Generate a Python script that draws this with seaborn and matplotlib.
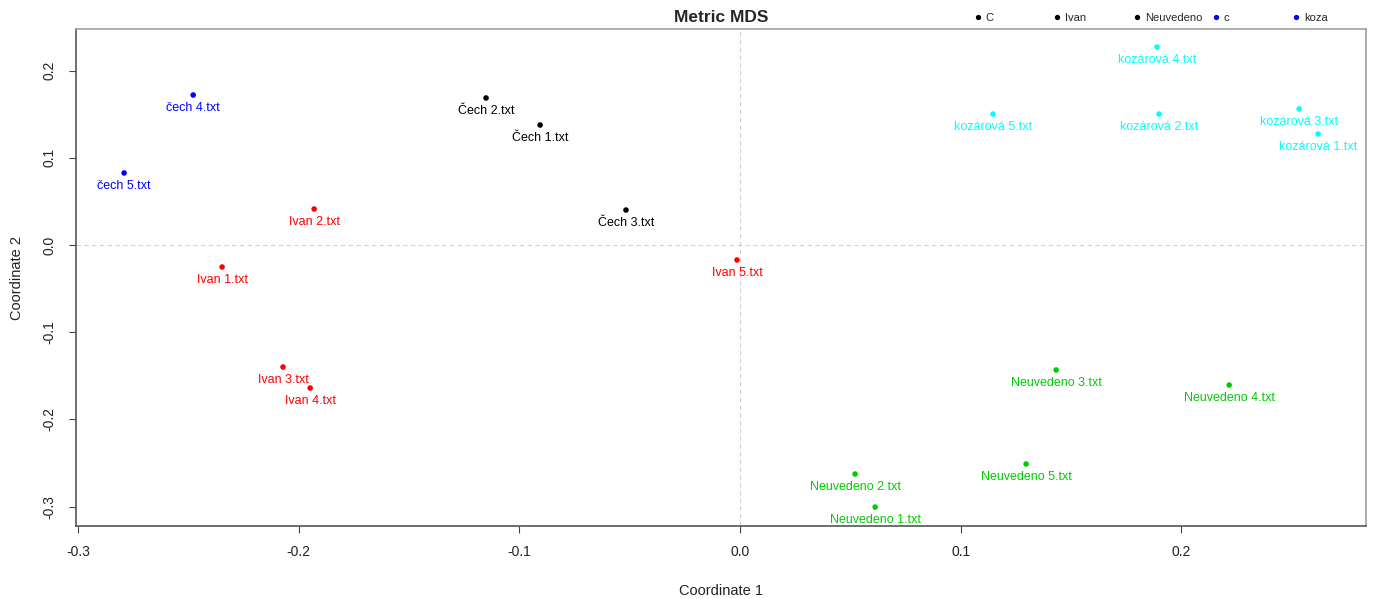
import matplotlib
matplotlib.use("Agg")
import matplotlib.pyplot as plt
from matplotlib.lines import Line2D
import seaborn as sns
import pandas as pd

# ---- data ----
labels = ["čech 4.txt", "čech 5.txt",
          "Čech 2.txt", "Čech 1.txt", "Čech 3.txt",
          "Ivan 2.txt", "Ivan 1.txt", "Ivan 5.txt", "Ivan 3.txt", "Ivan 4.txt",
          "kozárová 4.txt", "kozárová 5.txt", "kozárová 2.txt", "kozárová 3.txt", "kozárová 1.txt",
          "Neuvedeno 3.txt", "Neuvedeno 4.txt", "Neuvedeno 2.txt", "Neuvedeno 5.txt", "Neuvedeno 1.txt"]
groups = ["čech", "čech",
          "Čech", "Čech", "Čech",
          "Ivan", "Ivan", "Ivan", "Ivan", "Ivan",
          "kozárová", "kozárová", "kozárová", "kozárová", "kozárová",
          "Neuvedeno", "Neuvedeno", "Neuvedeno", "Neuvedeno", "Neuvedeno"]
coord1 = [-0.2478, -0.2791,
          -0.1151, -0.0906, -0.0517,
          -0.1930, -0.2347, -0.0014, -0.2071, -0.1948,
          0.1889, 0.1146, 0.1898, 0.2533, 0.2619,
          0.1432, 0.2216, 0.0521, 0.1296, 0.0612]
coord2 = [0.1720, 0.0826,
          0.1686, 0.1376, 0.0401,
          0.0413, -0.0252, -0.0172, -0.1399, -0.1640,
          0.2271, 0.1502, 0.1502, 0.1560, 0.1273,
          -0.1433, -0.1606, -0.2626, -0.2511, -0.3005]
group_colors = {"čech": "#0000FF", "Čech": "#000000", "Ivan": "#FF0000",
                "kozárová": "#00FFFF", "Neuvedeno": "#00CD00"}
legend_names = ["C", "Ivan", "Neuvedeno", "c", "koza"]
legend_colors = ["#000000", "#000000", "#000000", "#0000FF", "#0000FF"]
xticks = [-0.3, -0.2, -0.1, 0.0, 0.1, 0.2]
yticks = [-0.3, -0.2, -0.1, 0.0, 0.1, 0.2]

df = pd.DataFrame({"label": labels, "group": groups, "x": coord1, "y": coord2})

sns.set_style("white", {"xtick.bottom": True, "ytick.left": True})
plt.rcParams["font.family"] = ["Liberation Sans", "DejaVu Sans"]

W, H = 1374, 599
fig = plt.figure(figsize=(W / 100, H / 100), dpi=100)
ax = fig.add_axes([76 / W, 1 - 526 / H, (1366 - 76) / W, (526 - 29) / H])

ax.axvline(0, color="#d0d0d0", ls=(0, (4, 3)), lw=0.8, zorder=0)
ax.axhline(0, color="#d0d0d0", ls=(0, (4, 3)), lw=0.8, zorder=0)

sns.scatterplot(data=df, x="x", y="y", hue="group", palette=group_colors,
                s=16, edgecolor="none", legend=False, ax=ax, zorder=3)

for _, r in df.iterrows():
    ax.annotate(r["label"], (r["x"], r["y"]), xytext=(0, -9.6),
                textcoords="offset points", ha="center", va="center",
                fontsize=9, color=group_colors[r["group"]])

ax.set_xlim(-0.3009, 0.2836)
ax.set_ylim(-0.3222, 0.2477)
ax.set_xticks(xticks)
ax.set_yticks(yticks)
ax.set_xticklabels([f"{t:.1f}" for t in xticks])
ax.set_yticklabels([f"{t:.1f}" for t in yticks], rotation=90, va="center")
ax.tick_params(axis="both", direction="out", length=5, width=0.8,
               color="#444444", labelsize=10, labelcolor="#222222",
               bottom=True, left=True)
ax.tick_params(axis="x", pad=9)
ax.tick_params(axis="y", pad=9)

for side in ["left", "bottom"]:
    ax.spines[side].set_color("#555555")
    ax.spines[side].set_linewidth(1.2)
for side in ["top", "right"]:
    ax.spines[side].set_color("#a0a0a0")
    ax.spines[side].set_linewidth(1.2)

ax.set_xlabel("Coordinate 1", fontsize=10.5, labelpad=18, color="#222222")
ax.set_ylabel("Coordinate 2", fontsize=10.5, labelpad=13.5, color="#222222")
ax.set_title("Metric MDS", fontsize=12.5, fontweight="bold", pad=5)

leg_x = [978, 1057, 1137, 1216, 1296]
for name, col, lx in zip(legend_names, legend_colors, leg_x):
    h = Line2D([], [], marker="o", ls="", color=col, markersize=2.8)
    fig.legend(handles=[h], labels=[name], loc="center left",
               bbox_to_anchor=((lx - 3.3) / W, 1 - 18 / H), frameon=False,
               borderpad=0, borderaxespad=0, handlelength=0.6,
               handletextpad=0.4, fontsize=8)

fig.savefig("out.png", dpi=100)
